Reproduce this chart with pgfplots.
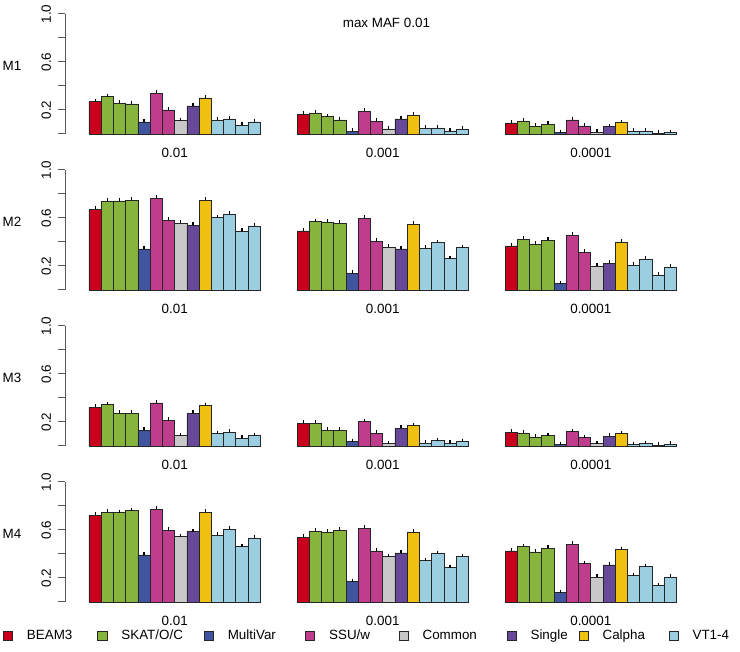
\documentclass[border=0pt]{standalone}
\usepackage{fontspec}
\setmainfont{Liberation Sans}
\usepackage{pgfplots}
\pgfplotsset{compat=1.18}

\definecolor{beam}{RGB}{200,0,30}
\definecolor{skat}{RGB}{135,180,60}
\definecolor{multi}{RGB}{64,84,160}
\definecolor{ssu}{RGB}{192,60,140}
\definecolor{common}{RGB}{200,200,200}
\definecolor{single}{RGB}{104,72,152}
\definecolor{calpha}{RGB}{240,192,16}
\definecolor{vt}{RGB}{154,206,224}

\newcommand{\fs}{\fontsize{6.7}{8}\selectfont}

% bar positions: group g at offset 0/17/34; within group
% BEAM3 0 | SKAT 1-3 | MultiVar 4 | SSU 5-6 | Common 7 | Single 8 | Calpha 9 | VT 10-13
\pgfplotsset{
  rowax/.style={
    width=308.8pt, height=60pt, scale only axis,
    xmin=-2.46, xmax=48, ymin=0, ymax=1,
    axis x line*=bottom, axis y line*=left,
    x axis line style={draw=none},
    y axis line style={draw=black!65, line width=0.5pt, -},
    tick align=outside, major tick length=3.5pt,
    ytick={0,0.2,0.4,0.6,0.8,1},
    yticklabels={,0.2,,0.6,,1.0},
    yticklabel style={rotate=90, anchor=south, font=\fs},
    ytick style={draw=black!65, line width=0.5pt},
    xtick={6.5,23.5,40.5},
    xticklabels={0.01,0.001,0.0001},
    xtick style={draw=none},
    xticklabel style={font=\fs},
    ybar, bar width=1, bar shift=0pt,
    every axis plot post/.append style={draw=black!85, line width=0.4pt},
    error bars/y dir=plus, error bars/y fixed=0.025,
    error bars/error mark=none,
    error bars/error bar style={black, line width=0.6pt},
    clip=false,
  }
}

\begin{document}
\begin{tikzpicture}
\useasboundingbox (0,0) rectangle (370pt,326pt);

% ---------------- M1
\begin{axis}[rowax, at={(32.5pt,259pt)}, anchor=south west]
\addplot[fill=beam] coordinates {(0,0.27) (17,0.164) (34,0.092)};
\addplot[fill=skat] coordinates {(1,0.31) (2,0.256) (3,0.25) (18,0.173) (19,0.145) (20,0.117) (35,0.106) (36,0.064) (37,0.081)};
\addplot[fill=multi] coordinates {(4,0.10) (21,0.022) (38,0.011)};
\addplot[fill=ssu] coordinates {(5,0.34) (6,0.20) (22,0.19) (23,0.106) (39,0.117) (40,0.067)};
\addplot[fill=common] coordinates {(7,0.11) (24,0.042) (41,0.014)};
\addplot[fill=single] coordinates {(8,0.234) (25,0.125) (42,0.061)};
\addplot[fill=calpha] coordinates {(9,0.30) (26,0.156) (43,0.095)};
\addplot[fill=vt] coordinates {(10,0.117) (11,0.125) (12,0.072) (13,0.10) (27,0.047) (28,0.05) (29,0.025) (30,0.039) (44,0.022) (45,0.025) (46,0.006) (47,0.011)};
\node[font=\fs] at (rel axis cs:0,0.57) [xshift=-26.5pt] {M1};
\node[font=\fs] at (axis cs:23.8,0.93) {max MAF 0.01};
\end{axis}

% ---------------- M2
\begin{axis}[rowax, at={(32.5pt,181pt)}, anchor=south west]
\addplot[fill=beam] coordinates {(0,0.672) (17,0.492) (34,0.367)};
\addplot[fill=skat] coordinates {(1,0.739) (2,0.742) (3,0.747) (18,0.569) (19,0.567) (20,0.556) (35,0.422) (36,0.381) (37,0.414)};
\addplot[fill=multi] coordinates {(4,0.342) (21,0.139) (38,0.053)};
\addplot[fill=ssu] coordinates {(5,0.764) (6,0.583) (22,0.597) (23,0.406) (39,0.456) (40,0.314)};
\addplot[fill=common] coordinates {(7,0.556) (24,0.358) (41,0.197)};
\addplot[fill=single] coordinates {(8,0.539) (25,0.342) (42,0.222)};
\addplot[fill=calpha] coordinates {(9,0.747) (26,0.547) (43,0.397)};
\addplot[fill=vt] coordinates {(10,0.603) (11,0.631) (12,0.489) (13,0.533) (27,0.347) (28,0.394) (29,0.261) (30,0.353) (44,0.206) (45,0.256) (46,0.125) (47,0.192)};
\node[font=\fs] at (rel axis cs:0,0.57) [xshift=-26.5pt] {M2};
\end{axis}

% ---------------- M3
\begin{axis}[rowax, at={(32.5pt,103pt)}, anchor=south west]
\addplot[fill=beam] coordinates {(0,0.323) (17,0.188) (34,0.116)};
\addplot[fill=skat] coordinates {(1,0.343) (2,0.273) (3,0.271) (18,0.188) (19,0.130) (20,0.130) (35,0.108) (36,0.075) (37,0.086)};
\addplot[fill=multi] coordinates {(4,0.130) (21,0.036) (38,0.011)};
\addplot[fill=ssu] coordinates {(5,0.359) (6,0.213) (22,0.204) (23,0.105) (39,0.119) (40,0.069)};
\addplot[fill=common] coordinates {(7,0.086) (24,0.019) (41,0.019)};
\addplot[fill=single] coordinates {(8,0.271) (25,0.146) (42,0.080)};
\addplot[fill=calpha] coordinates {(9,0.337) (26,0.168) (43,0.102)};
\addplot[fill=vt] coordinates {(10,0.102) (11,0.116) (12,0.066) (13,0.086) (27,0.025) (28,0.044) (29,0.022) (30,0.036) (44,0.011) (45,0.019) (46,0.006) (47,0.014)};
\node[font=\fs] at (rel axis cs:0,0.57) [xshift=-26.5pt] {M3};
\end{axis}

% ---------------- M4 (with legend)
\begin{axis}[rowax, at={(32.5pt,25pt)}, anchor=south west,
  legend columns=8, legend cell align=left,
  legend image code/.code={\draw[#1] (0pt,-2.3pt) rectangle (4.6pt,2.3pt);},
  legend style={draw=none, fill=none, at={(-0.1004,-0.2833)}, anchor=west,
    inner sep=0pt, outer sep=0pt, font=\fs,
    nodes={inner sep=0pt},
    /tikz/every odd column/.append style={column sep=7pt},
    /tikz/every even column/.append style={column sep=0pt}},
]
\addplot[fill=beam] coordinates {(0,0.724) (17,0.539) (34,0.425)};
\addlegendentry{\makebox[35.2pt][l]{BEAM3}}
\addplot[fill=skat] coordinates {(1,0.749) (2,0.743) (3,0.760) (18,0.591) (19,0.580) (20,0.597) (35,0.461) (36,0.417) (37,0.448)};
\addlegendentry{\makebox[41.2pt][l]{SKAT/O/C}}
\addplot[fill=multi] coordinates {(4,0.392) (21,0.169) (38,0.077)};
\addlegendentry{\makebox[38.7pt][l]{MultiVar}}
\addplot[fill=ssu] coordinates {(5,0.773) (6,0.597) (22,0.613) (23,0.425) (39,0.483) (40,0.320)};
\addlegendentry{\makebox[34.7pt][l]{SSU/w}}
\addplot[fill=common] coordinates {(7,0.544) (24,0.378) (41,0.207)};
\addlegendentry{\makebox[42pt][l]{Common}}
\addplot[fill=single] coordinates {(8,0.586) (25,0.409) (42,0.309)};
\addlegendentry{\makebox[24pt][l]{Single}}
\addplot[fill=calpha] coordinates {(9,0.746) (26,0.580) (43,0.436)};
\addlegendentry{\makebox[33pt][l]{Calpha}}
\addplot[fill=vt] coordinates {(10,0.558) (11,0.608) (12,0.461) (13,0.530) (27,0.343) (28,0.403) (29,0.287) (30,0.376) (44,0.218) (45,0.293) (46,0.135) (47,0.207)};
\addlegendentry{VT1-4}
\node[font=\fs] at (rel axis cs:0,0.57) [xshift=-26.5pt] {M4};
\end{axis}
\end{tikzpicture}
\end{document}
